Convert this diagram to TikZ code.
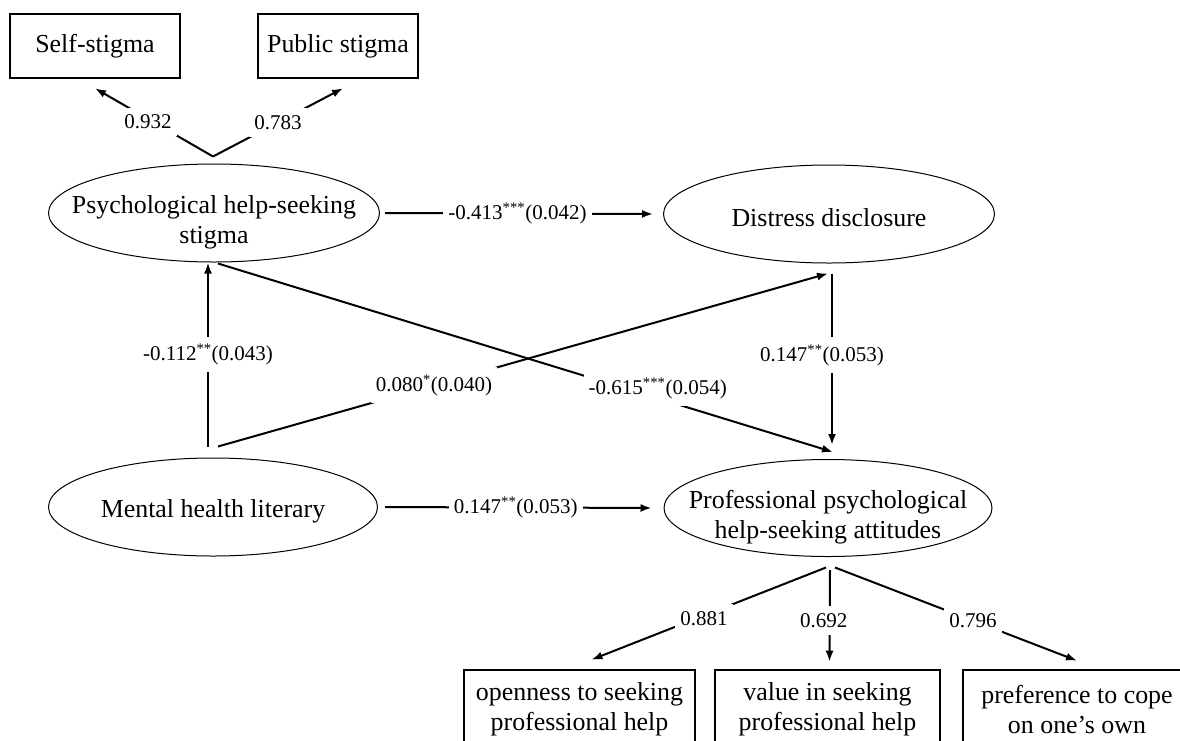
\documentclass[tikz,border=0pt]{standalone}
\usepackage{fontspec}
\setmainfont{Liberation Serif}
\usetikzlibrary{shapes.geometric, arrows.meta, positioning}

\begin{document}
\begin{tikzpicture}[x=1pt, y=-1pt, >={Latex[length=11pt,width=8pt]},
    latent/.style={ellipse, draw, line width=1pt, minimum width=331pt, minimum height=98pt, inner sep=0pt},
    latentText/.style={align=center, inner sep=0pt, yshift=-4pt, font=\fontsize{25.9}{30}\selectfont},
    indicator/.style={draw, line width=2.6pt, align=center, inner sep=0pt, font=\fontsize{25.9}{30}\selectfont},
    link/.style={->, line width=2pt},
    coef/.style={fill=white, inner xsep=5pt, inner ysep=7pt, font=\fontsize{21}{25}\selectfont}]

    % =================================================================
    % 1. KHUNG HÌNH
    % =================================================================
    \useasboundingbox (0,0) rectangle (1180,740);

    % =================================================================
    % 2. CÁC BIẾN TIỀM ẨN (hình elip)
    % =================================================================
    \node[latent] (psy) at (214,213) {};
    \node[latentText, yshift=-5pt] (psyText) at (psy) {Psychological help-seeking\\stigma};
    \node[latent] (dis) at (829,214) {};
    \node[latentText] (disText) at (dis) {Distress disclosure};
    \node[latent, minimum width=329pt] (mhl) at (213,507) {};
    \node[latentText] (mhlText) at (mhl) {Mental health literary};
    \node[latent, minimum width=328pt, minimum height=97pt] (pro) at (828,508) {};
    \node[latentText, yshift=-5pt] (proText) at (pro) {Professional psychological\\help-seeking attitudes};

    % =================================================================
    % 3. CÁC BIẾN QUAN SÁT (hình chữ nhật)
    % =================================================================
    \node[indicator, minimum width=170pt, minimum height=64pt] (self) at (95,46) {Self-stigma};
    \node[indicator, minimum width=160pt, minimum height=64pt] (pub) at (338,46) {Public stigma};
    \node[indicator, minimum width=231pt, minimum height=78pt] (open) at (579.5,709) {openness to seeking\\professional help};
    \node[indicator, minimum width=225pt, minimum height=78pt] (value) at (827.5,709) {value in seeking\\professional help};
    \node[indicator, minimum width=228pt, minimum height=78pt] (cope) at (1077,709) {preference to cope\\on one’s own};

    % =================================================================
    % 4. ĐIỂM ĐẦU / CUỐI CỦA CÁC MŨI TÊN
    % =================================================================
    \coordinate (psyFan) at ([shift={(-1,-7)}]psy.north);
    \coordinate (selfTip) at ([shift={(0,9)}]self.south);
    \coordinate (pubTip) at ([shift={(5,9)}]pub.south);

    \coordinate (proFanL) at ([shift={(-2,10.5)}]pro.south);
    \coordinate (proFanM) at ([shift={(2,13)}]pro.south);
    \coordinate (proFanR) at ([shift={(7,10.5)}]pro.south);
    \coordinate (openTip) at ([shift={(12,-9)}]open.north);
    \coordinate (valueTip) at ([shift={(2,-7)}]value.north);
    \coordinate (copeTip) at ([shift={(0,-8)}]cope.north);

    \coordinate (mhlUp) at ([shift={(-5,-11)}]mhl.north);
    \coordinate (mhlRight) at ([shift={(5,-11)}]mhl.north);
    \coordinate (psyDown) at ([shift={(-6,0)}]psy.south);
    \coordinate (psyOut) at ([shift={(4,1)}]psy.south);
    \coordinate (disDown) at ([shift={(-1,10)}]dis.south);
    \coordinate (disOut) at ([shift={(3,10)}]dis.south);
    \coordinate (proIn) at ([shift={(4,-14)}]pro.north);
    \coordinate (proIn2) at ([shift={(5,-7)}]pro.north);

    % =================================================================
    % 5. HỆ SỐ TẢI NHÂN TỐ
    % =================================================================
    \draw[link] (psyFan) -- node[coef, pos=0.55, yshift=-3pt] {0.932} (selfTip);
    \draw[link] (psyFan) -- node[coef, pos=0.5] {0.783} (pubTip);

    \draw[link] (proFanL) -- node[coef, pos=0.52, yshift=-3pt] {0.881} (openTip);
    \draw[link] (proFanM) -- node[coef, pos=0.55, xshift=-6pt] {0.692} (valueTip);
    \draw[link] (proFanR) -- node[coef, pos=0.57] {0.796} (copeTip);

    % =================================================================
    % 6. CÁC ĐƯỜNG DẪN CẤU TRÚC
    % =================================================================
    \draw[link, shorten <=5pt, shorten >=10pt] (psy.east) -- node[coef, xshift=-4pt] {-0.413\textsuperscript{***}(0.042)} (dis.west);
    \draw[link, shorten <=7pt, shorten >=12pt] (mhl.east) -- node[coef, xshift=-5pt] {0.147\textsuperscript{**}(0.053)} (pro.west);
    \draw[link] (mhlUp) -- node[coef] {-0.112\textsuperscript{**}(0.043)} (psyDown);
    \draw[link] (mhlRight) -- node[coef, pos=0.354] {0.080\textsuperscript{*}(0.040)} (disDown);
    \draw[link] (psyOut) -- node[coef, pos=0.715, yshift=10pt] {-0.615\textsuperscript{***}(0.054)} (proIn2);
    \draw[link] (disOut) -- node[coef, xshift=-10pt, yshift=4pt] {0.147\textsuperscript{**}(0.053)} (proIn);

\end{tikzpicture}
\end{document}
